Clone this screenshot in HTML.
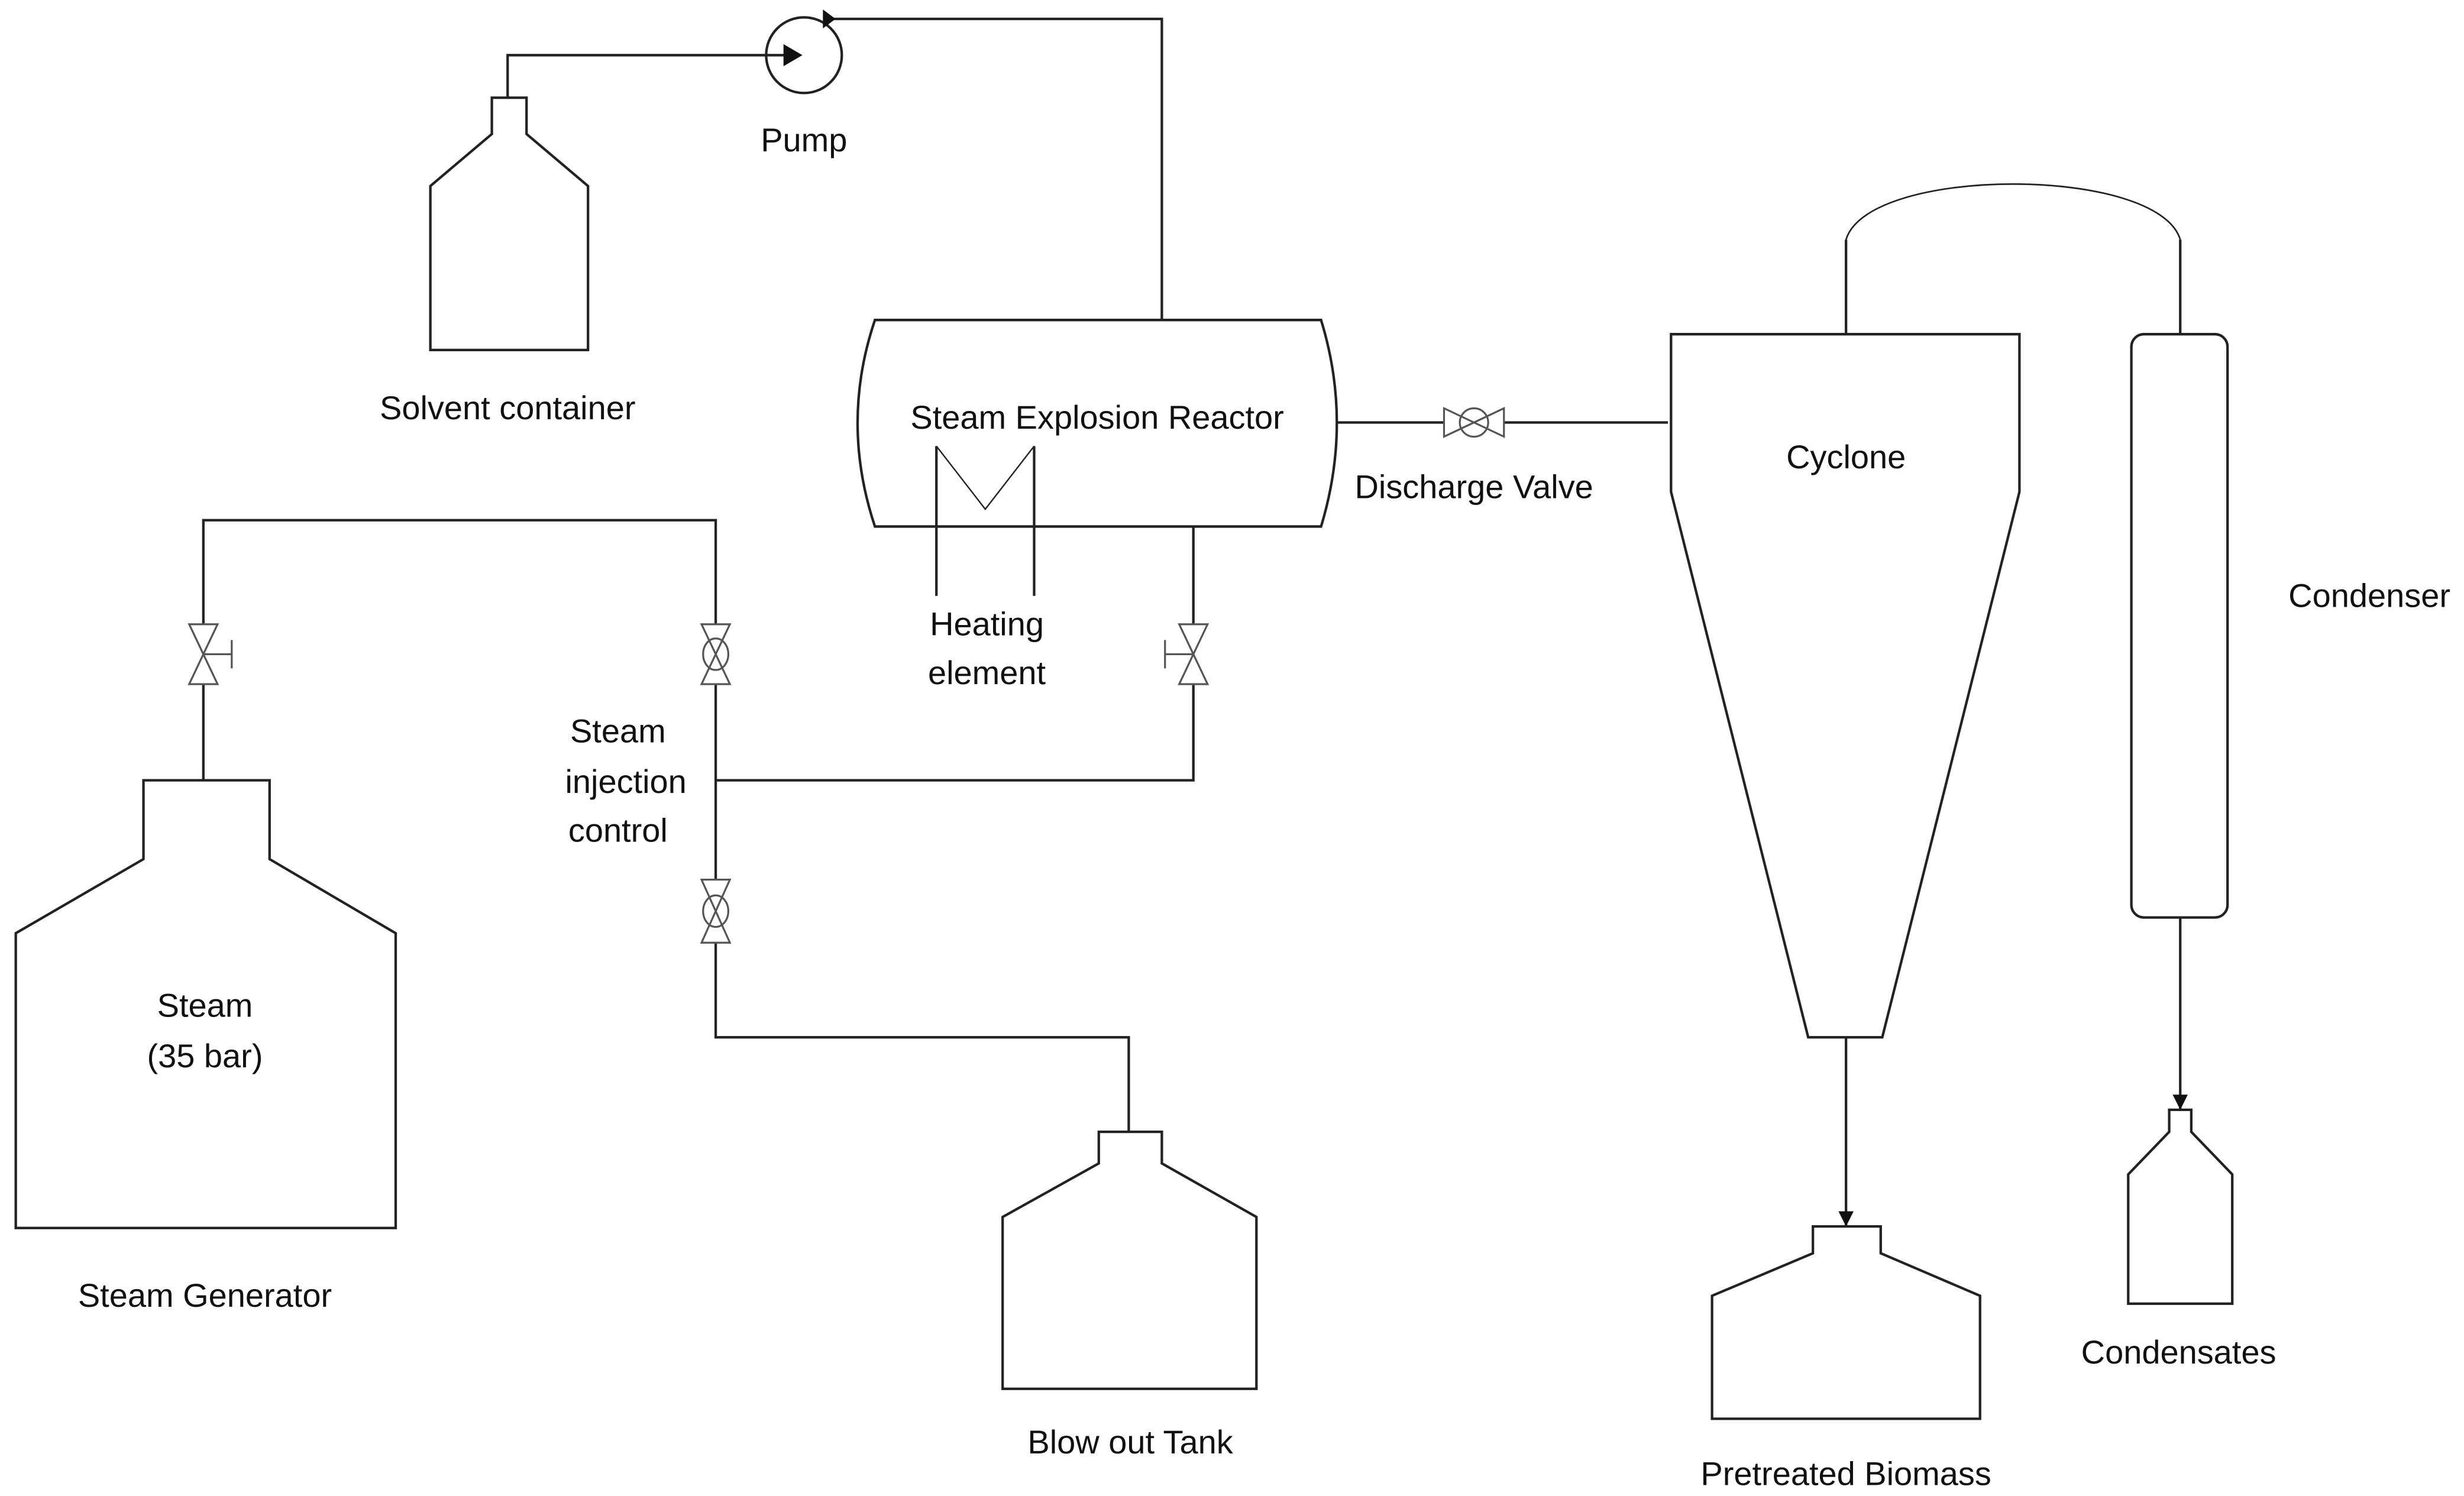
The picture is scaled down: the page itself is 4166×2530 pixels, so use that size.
<!DOCTYPE html>
<html><head><meta charset="utf-8"><style>
html,body{margin:0;padding:0;background:#fff;}
svg{display:block;}
text{font-family:"Liberation Sans",sans-serif;font-size:21px;fill:#111;text-anchor:middle;}
</style></head><body>
<svg width="4166" height="2530" viewBox="0 0 1563 949" preserveAspectRatio="none" xmlns="http://www.w3.org/2000/svg">
<defs>
<marker id="ar" viewBox="0 0 10 10" refX="10" refY="5" markerWidth="6" markerHeight="6" orient="auto"><path d="M0,0 L10,5 L0,10z" fill="#111"/></marker>
</defs>
<g fill="none" stroke="#222" stroke-width="1.6">
<path d="M312,62 H334 V85 L373,118 V222 H273 V118 L312,85 Z"/>
<path d="M322,62 V35 H505"/>
<circle cx="510" cy="35" r="24"/>
<path d="M525,12 H737 V203"/>
<path d="M555,203 H838 Q858,268 838,334 H555 Q533,268 555,203 Z"/>
<path d="M594,283 V378 M656,283 V378"/>
<path d="M594,283 L625,323 L656,283" stroke-width="0.9"/>
<path d="M848,268 H916 M954,268 H1058"/>
<path d="M757,334 V396 M757,434 V495 H454"/>
<path d="M129,495 V434 M129,396 V330 H454 V396 M454,434 V558 M454,598 V658 H716 V718"/>
<path d="M91,495 H171 V545 L251,592 V779 H10 V592 L91,545 Z"/>
<path d="M697,718 H737 V738 L797,772 V881 H636 V772 L697,738 Z"/>
<path d="M1060,212 H1281 V312 L1194,658 H1147 L1060,312 Z"/>
<path d="M1171,212 V152 M1383,152 V212"/>
<path d="M1171,152 C1185,105 1369,105 1383,152" stroke-width="1"/>
<rect x="1352" y="212" width="61" height="370" rx="8"/>
<path d="M1383,582 V704" marker-end="url(#ar)"/>
<path d="M1376,704 H1390 V718 L1416,745 V827 H1350 V745 L1376,718 Z"/>
<path d="M1171,658 V778" marker-end="url(#ar)"/>
<path d="M1150,778 H1193 V795 L1256,822 V900 H1086 V822 L1150,795 Z"/>
</g>
<path d="M497,28 L509,35 L497,42 Z" fill="#111"/>
<path d="M522,6 L530,12 L522,18 Z" fill="#111"/>
<g fill="none" stroke="#555" stroke-width="1.2">
<path d="M120,396 H138 L120,434 H138 Z M129,415 H147 M147,406 V424"/>
<path d="M445,396 H463 L445,434 H463 Z"/><ellipse cx="454" cy="415" rx="8" ry="10"/>
<path d="M445,558 H463 L445,598 H463 Z"/><ellipse cx="454" cy="578" rx="8" ry="10"/>
<path d="M748,396 H766 L748,434 H766 Z M757,415 H739 M739,406 V424"/>
<path d="M916,259 V277 L954,259 V277 Z"/><circle cx="935" cy="268" r="9"/>
</g>
<text x="322" y="266">Solvent container</text>
<text x="510" y="96">Pump</text>
<text x="696" y="272">Steam Explosion Reactor</text>
<text x="626" y="403">Heating</text>
<text x="626" y="434">element</text>
<text x="935" y="316">Discharge Valve</text>
<text x="392" y="471">Steam</text>
<text x="397" y="503">injection</text>
<text x="392" y="534">control</text>
<text x="130" y="645">Steam</text>
<text x="130" y="677">(35 bar)</text>
<text x="130" y="829">Steam Generator</text>
<text x="717" y="922">Blow out Tank</text>
<text x="1171" y="297">Cyclone</text>
<text x="1503" y="385">Condenser</text>
<text x="1382" y="865">Condensates</text>
<text x="1171" y="942">Pretreated Biomass</text>
</svg>
</body></html>
